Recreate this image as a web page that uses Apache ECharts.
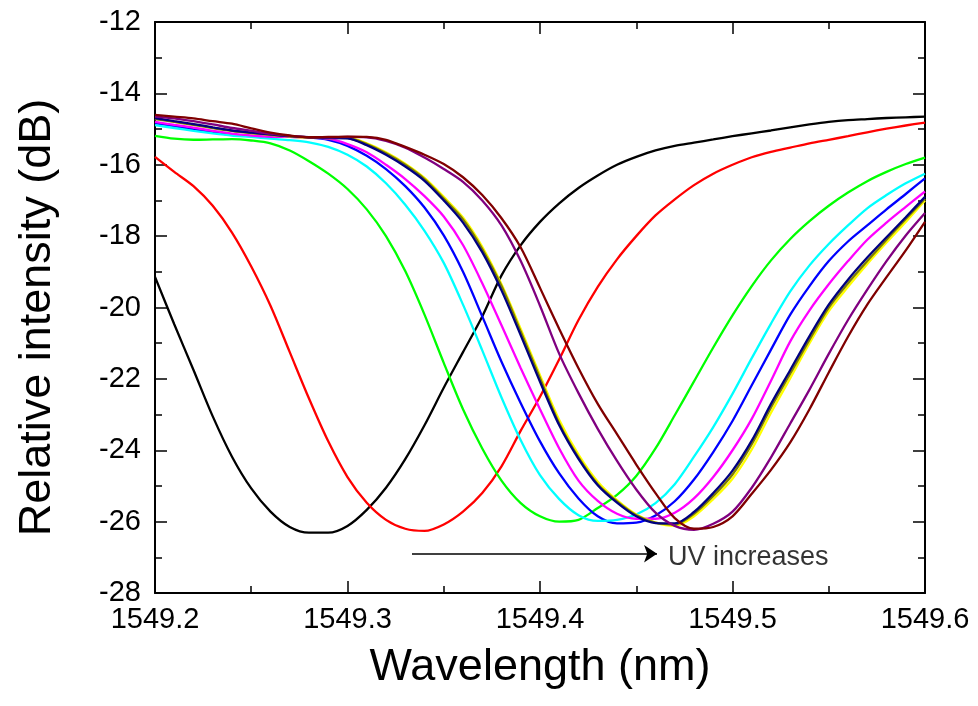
<!DOCTYPE html>
<html><head><meta charset="utf-8">
<script src="https://cdn.jsdelivr.net/npm/echarts@6/dist/echarts.min.js"></script>
<style>html,body{margin:0;padding:0;background:#fff}#c{width:978px;height:706px}</style>
</head><body><div id="c"></div>
<script>
const wavelengths = [1549.20,1549.21,1549.22,1549.23,1549.24,1549.25,1549.26,1549.27,1549.28,1549.29,
  1549.30,1549.31,1549.32,1549.33,1549.34,1549.35,1549.36,1549.37,1549.38,1549.39,
  1549.40,1549.41,1549.42,1549.43,1549.44,1549.45,1549.46,1549.47,1549.48,1549.49,
  1549.50,1549.51,1549.52,1549.53,1549.54,1549.55,1549.56,1549.57,1549.58,1549.59,1549.60];

const sBlack = [-19.14,-20.47,-21.75,-23.05,-24.18,-25.07,-25.72,-26.15,-26.31,-26.31,
  -26.12,-25.67,-25.05,-24.25,-23.30,-22.25,-21.25,-20.25,-19.10,-18.25,
  -17.60,-17.08,-16.65,-16.30,-16.00,-15.78,-15.60,-15.47,-15.38,-15.29,
  -15.20,-15.12,-15.04,-14.95,-14.87,-14.80,-14.75,-14.72,-14.69,-14.67,-14.65];
const sRed = [-15.78,-16.20,-16.60,-17.15,-17.90,-18.85,-19.95,-21.25,-22.55,-23.75,
  -24.75,-25.47,-25.95,-26.20,-26.26,-26.08,-25.72,-25.20,-24.45,-23.45,
  -22.50,-21.45,-20.35,-19.42,-18.65,-18.00,-17.42,-16.97,-16.57,-16.25,
  -16.00,-15.79,-15.64,-15.52,-15.40,-15.30,-15.20,-15.09,-14.99,-14.90,-14.82];
const sGreen = [-15.19,-15.27,-15.30,-15.29,-15.28,-15.32,-15.40,-15.60,-15.90,-16.25,
  -16.68,-17.25,-18.00,-18.98,-20.20,-21.55,-22.85,-23.95,-24.85,-25.48,
  -25.85,-26.00,-25.95,-25.62,-25.25,-24.72,-23.95,-23.02,-22.07,-21.12,
  -20.22,-19.40,-18.68,-18.08,-17.58,-17.15,-16.78,-16.46,-16.20,-15.98,-15.80];
const sBlue = [-14.83,-14.92,-15.01,-15.09,-15.16,-15.20,-15.22,-15.22,-15.24,-15.30,
  -15.47,-15.75,-16.12,-16.60,-17.20,-17.98,-19.00,-20.25,-21.52,-22.68,
  -23.75,-24.65,-25.35,-25.85,-26.05,-26.03,-25.83,-25.43,-24.82,-24.05,
  -23.18,-22.18,-21.18,-20.20,-19.40,-18.70,-18.15,-17.70,-17.25,-16.82,-16.38];
const sCyan = [-14.89,-14.97,-15.05,-15.12,-15.18,-15.22,-15.27,-15.31,-15.37,-15.50,
  -15.72,-16.05,-16.52,-17.12,-17.85,-18.75,-19.92,-21.20,-22.52,-23.72,
  -24.70,-25.37,-25.82,-25.98,-25.95,-25.80,-25.48,-24.95,-24.18,-23.35,
  -22.42,-21.42,-20.45,-19.55,-18.82,-18.22,-17.70,-17.22,-16.85,-16.52,-16.25];
const sMagenta = [-14.80,-14.88,-14.96,-15.05,-15.13,-15.18,-15.21,-15.22,-15.23,-15.27,
  -15.42,-15.65,-16.00,-16.40,-16.88,-17.45,-18.25,-19.32,-20.50,-21.70,
  -22.85,-23.95,-24.85,-25.42,-25.78,-25.92,-25.92,-25.75,-25.35,-24.75,
  -24.00,-23.12,-22.05,-20.95,-20.08,-19.35,-18.70,-18.10,-17.62,-17.18,-16.75];
const sYellow = [-14.70,-14.79,-14.87,-14.96,-15.05,-15.11,-15.16,-15.21,-15.24,-15.25,
  -15.24,-15.40,-15.65,-15.97,-16.37,-16.90,-17.48,-18.30,-19.35,-20.60,
  -21.90,-23.15,-24.12,-24.88,-25.40,-25.80,-26.03,-26.12,-25.85,-25.37,
  -24.80,-23.98,-22.95,-21.98,-21.00,-20.10,-19.42,-18.78,-18.18,-17.60,-17.00];
const sOlive = [-14.72,-14.80,-14.88,-14.97,-15.05,-15.11,-15.16,-15.20,-15.23,-15.24,
  -15.25,-15.42,-15.68,-16.00,-16.40,-16.95,-17.53,-18.36,-19.40,-20.68,
  -21.98,-23.25,-24.20,-24.95,-25.43,-25.82,-26.03,-26.08,-25.78,-25.28,
  -24.68,-23.83,-22.80,-21.85,-20.90,-20.00,-19.32,-18.70,-18.10,-17.52,-16.95];
const sNavy = [-14.69,-14.78,-14.86,-14.95,-15.04,-15.10,-15.15,-15.20,-15.23,-15.25,
  -15.26,-15.45,-15.72,-16.05,-16.45,-17.00,-17.62,-18.45,-19.52,-20.78,
  -22.08,-23.30,-24.24,-24.98,-25.47,-25.85,-26.04,-26.05,-25.73,-25.20,
  -24.57,-23.73,-22.70,-21.75,-20.80,-19.92,-19.22,-18.60,-18.03,-17.47,-16.90];
const sPurple = [-14.65,-14.70,-14.78,-14.87,-14.97,-15.05,-15.13,-15.19,-15.23,-15.23,
  -15.22,-15.23,-15.33,-15.52,-15.80,-16.12,-16.48,-17.00,-17.70,-18.70,
  -19.95,-21.30,-22.40,-23.40,-24.30,-25.10,-25.75,-26.12,-26.23,-26.06,
  -25.72,-25.05,-24.20,-23.25,-22.30,-21.30,-20.35,-19.50,-18.70,-17.98,-17.35];
const sWine = [-14.60,-14.65,-14.70,-14.78,-14.85,-14.98,-15.10,-15.18,-15.23,-15.22,
  -15.21,-15.22,-15.30,-15.50,-15.72,-15.98,-16.35,-16.85,-17.50,-18.32,
  -19.45,-20.60,-21.70,-22.70,-23.55,-24.40,-25.20,-25.90,-26.20,-26.15,
  -25.85,-25.22,-24.55,-23.78,-22.85,-21.82,-20.82,-19.92,-19.15,-18.40,-17.60];

const seriesList = [
  {name:'1', values:sBlack, color:'#000000'},
  {name:'2', values:sRed, color:'#ff0000'},
  {name:'3', values:sGreen, color:'#00ff00'},
  {name:'4', values:sBlue, color:'#0000ff'},
  {name:'5', values:sCyan, color:'#00ffff'},
  {name:'6', values:sMagenta, color:'#ff00ff'},
  {name:'7', values:sYellow, color:'#ffff00'},
  {name:'8', values:sOlive, color:'#808000'},
  {name:'9', values:sNavy, color:'#000080'},
  {name:'10', values:sPurple, color:'#800080'},
  {name:'11', values:sWine, color:'#800000'}
];

const arrowStart = [1549.3335, -26.9];
const arrowEnd = [1549.4608, -26.9];
const noteLabel = 'UV increases';
const notePos = [1549.4665, -27.0];

const FONT = '"Liberation Sans", Arial, sans-serif';
const chart = echarts.init(document.getElementById('c'));

function tickCfg(showLabel, extra) {
  return Object.assign({
    axisLine: {show: true, onZero: false, lineStyle: {color: '#000', width: 2}},
    axisTick: {show: true, inside: true, length: 12, lineStyle: {color: '#000', width: 1.5}},
    minorTick: {show: true, splitNumber: 2, length: 7, lineStyle: {color: '#000', width: 1.5}},
    splitLine: {show: false},
    minorSplitLine: {show: false},
    axisLabel: {show: showLabel}
  }, extra);
}

const series = seriesList.map(s => ({
  name: s.name,
  type: 'line',
  data: wavelengths.map((w, i) => [w, s.values[i]]),
  showSymbol: false,
  symbol: 'none',
  smooth: 0.3,
  lineStyle: {color: s.color, width: 2.3},
  itemStyle: {color: s.color},
  z: 2
}));

series.push({
  type: 'scatter',
  data: [notePos],
  symbolSize: 0,
  silent: true,
  label: {show: true, position: 'right', distance: 0, formatter: noteLabel,
    fontFamily: FONT, fontSize: 27, color: '#000'},
  markLine: {
    silent: true,
    symbol: ['none', 'arrow'],
    symbolSize: 13,
    label: {show: false},
    lineStyle: {color: '#000', width: 1.5, type: 'solid'},
    data: [[{coord: arrowStart}, {coord: arrowEnd}]]
  }
});

chart.setOption({
  animation: false,
  backgroundColor: '#fff',
  grid: {left: 155, right: 53, top: 22, bottom: 113},
  xAxis: [
    tickCfg(true, {
      type: 'value', position: 'bottom', min: 1549.2, max: 1549.6, interval: 0.1,
      name: 'Wavelength (nm)', nameLocation: 'middle', nameGap: 52,
      nameTextStyle: {fontFamily: FONT, fontSize: 45, color: '#000'},
      axisLabel: {show: true, fontFamily: FONT, fontSize: 29, color: '#000', margin: 12,
        formatter: v => v.toFixed(1)}
    }),
    tickCfg(false, {type: 'value', position: 'top', min: 1549.2, max: 1549.6, interval: 0.1})
  ],
  yAxis: [
    tickCfg(true, {
      type: 'value', position: 'left', min: -28, max: -12, interval: 2,
      name: 'Relative intensity (dB)', nameLocation: 'middle', nameGap: 95,
      nameTextStyle: {fontFamily: FONT, fontSize: 45, color: '#000', padding: [0, 20, 0, 0]},
      axisLabel: {show: true, fontFamily: FONT, fontSize: 29, color: '#000', margin: 14}
    }),
    tickCfg(false, {type: 'value', position: 'right', min: -28, max: -12, interval: 2})
  ],
  series: series
});
</script>
</body></html>
